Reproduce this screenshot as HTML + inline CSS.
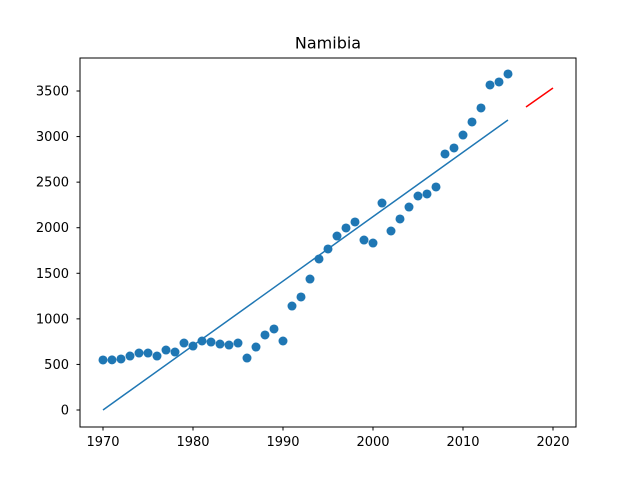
<!DOCTYPE html>
<html><head><meta charset="utf-8">
<style>
body{margin:0;background:#fff;}
svg text{font-family:"DejaVu Sans","Liberation Sans",sans-serif;}
</style></head>
<body>
<svg id="chart" width="640" height="480" xmlns="http://www.w3.org/2000/svg">
<rect width="640" height="480" fill="#fff"/>
<text x="328" y="48.5" font-size="16" text-anchor="middle">Namibia</text>
<g id="marks"></g>
<rect x="80" y="58" width="496" height="369" fill="none" stroke="#000" stroke-width="1"/>
<g id="axes"></g>
</svg>
<script>
const years=[1970,1971,1972,1973,1974,1975,1976,1977,1978,1979,1980,1981,1982,1983,1984,1985,1986,1987,1988,1989,1990,1991,1992,1993,1994,1995,1996,1997,1998,1999,2000,2001,2002,2003,2004,2005,2006,2007,2008,2009,2010,2011,2012,2013,2014,2015];
const values=[549,550,560,592,625,625,592,658,636,735,702,757,746,724,713,735,570,691,823,889,757,1141,1240,1437,1657,1767,1909,1997,2063,1865,1832,2271,1964,2096,2227,2348,2370,2447,2809,2875,3017,3160,3314,3566,3599,3687];
const fitYears=[1970,2015];
const fitValues=[0,3182];
const predYears=[2017,2020];
const predValues=[3325,3533];
const xTicks=[1970,1980,1990,2000,2010,2020];
const yTicks=[0,500,1000,1500,2000,2500,3000,3500];
const NS="http://www.w3.org/2000/svg";
const X=v=>103+(v-1970)*9;
const Y=v=>410-v*(319/3500);
const marks=document.getElementById('marks'),axes=document.getElementById('axes');
function mk(tag,attrs,parent){const e=document.createElementNS(NS,tag);for(const k in attrs)e.setAttribute(k,attrs[k]);parent.appendChild(e);return e;}
years.forEach((yr,i)=>{
  const c=mk('circle',{cx:X(yr),cy:Y(values[i]),r:4.5,fill:'#1f77b4'},marks);
  
  
});
const fl=mk('line',{x1:X(fitYears[0]),y1:Y(fitValues[0]),x2:X(fitYears[1]),y2:Y(fitValues[1]),stroke:'#1f77b4','stroke-width':1.5},marks);


const pl=mk('line',{x1:X(predYears[0]),y1:Y(predValues[0]),x2:X(predYears[1]),y2:Y(predValues[1]),stroke:'red','stroke-width':1.5},marks);


xTicks.forEach(t=>{
  const l=mk('line',{x1:X(t),x2:X(t),y1:427,y2:430.5,stroke:'#000'},axes);
  
  
  const tx=mk('text',{x:X(t),y:446,'font-size':13,'text-anchor':'middle'},axes);
  tx.textContent=t;
  
  
});
yTicks.forEach(t=>{
  const l=mk('line',{x1:76.5,x2:80,y1:Y(t),y2:Y(t),stroke:'#000'},axes);
  
  
  const tx=mk('text',{x:69,y:Y(t)+4.5,'font-size':13,'text-anchor':'end'},axes);
  tx.textContent=t;
  
  
});
</script>
</body></html>
